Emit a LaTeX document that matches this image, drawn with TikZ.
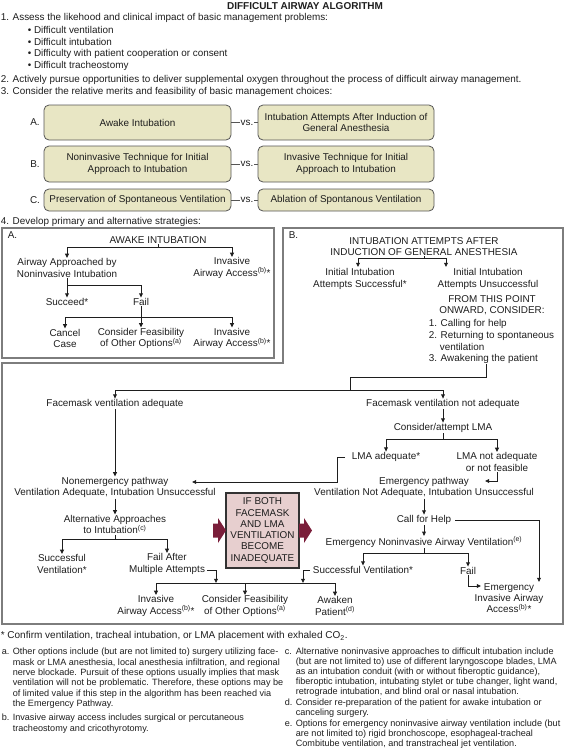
\documentclass[tikz,border=0pt]{standalone}
\usepackage{fontspec}
\setmainfont{Liberation Sans}
\usetikzlibrary{arrows.meta,calc}
\definecolor{txtc}{RGB}{30,30,30}
\definecolor{khaki}{RGB}{232,230,196}
\definecolor{boxline}{RGB}{85,85,85}
\definecolor{framec}{RGB}{125,125,125}
\definecolor{pinkc}{RGB}{231,207,207}
\definecolor{maroonc}{RGB}{122,30,58}
\newcommand{\sups}[1]{\textsuperscript{(#1)}}
\begin{document}
\begin{tikzpicture}[x=1pt,y=-1pt,
  every node/.style={font=\fontsize{9.9}{11.3}\selectfont, text=txtc, inner sep=0.8pt, outer sep=0pt},
  lbl/.style={align=center},
  arr/.style={-{Triangle[length=4.2pt,width=3.8pt]}, line width=0.85pt, draw=txtc},
  ln/.style={line width=0.85pt, draw=txtc},
  choice/.style={draw=boxline, fill=khaki, rounded corners=5pt, line width=0.8pt, align=center, minimum height=#1},
  frame/.style={draw=framec, line width=1.1pt},
  fnote/.style={font=\fontsize{9.1}{10.4}\selectfont, align=left, anchor=north west},
  fnoter/.style={font=\fontsize{9.1}{10.0}\selectfont, align=left, anchor=north west}
]
\useasboundingbox (0,0) rectangle (566,750);

% ---------- heading and list ----------
\node[font=\bfseries\fontsize{10}{12}\selectfont] (title) at (305,6) {DIFFICULT AIRWAY ALGORITHM};
\node[anchor=west] (l1) at (0,18) {1. Assess the likehood and clinical impact of basic management problems:};
\node[anchor=west] (bu1) at (27,30) {\textbullet\ Difficult ventilation};
\node[anchor=west] (bu2) at (27,42) {\textbullet\ Difficult intubation};
\node[anchor=west] (bu3) at (27,54) {\textbullet\ Difficulty with patient cooperation or consent};
\node[anchor=west] (bu4) at (27,66) {\textbullet\ Difficult tracheostomy};
\node[anchor=west] (l2) at (0,79.5) {2. Actively pursue opportunities to deliver supplemental oxygen throughout the process of difficult airway management.};
\node[anchor=west] (l3) at (0,91.5) {3. Consider the relative merits and feasibility of basic management choices:};

% ---------- choices ----------
\node (lA) at (35,122.5) {A.};
\node[choice=35pt, minimum width=187pt] (cA1) at (137.5,122.5) {Awake Intubation};
\node (vsA) at (247,122.5) {vs.};
\node[choice=35pt, minimum width=176pt] (cA2) at (346,122.5) {Intubation Attempts After Induction of\\General Anesthesia};
\node (lB) at (35,164) {B.};
\node[choice=36pt, minimum width=187pt] (cB1) at (137.5,164) {Noninvasive Technique for Initial\\Approach to Intubation};
\node (vsB) at (247,164) {vs.};
\node[choice=36pt, minimum width=176pt] (cB2) at (346,164) {Invasive Technique for Initial\\Approach to Intubation};
\node (lC) at (35,200) {C.};
\node[choice=22pt, minimum width=187pt] (cC1) at (137.5,200) {Preservation of Spontaneous Ventilation};
\node (vsC) at (247,200) {vs.};
\node[choice=22pt, minimum width=176pt] (cC2) at (346,200) {Ablation of Spontanous Ventilation};
\foreach \r in {A,B,C}{
  \draw[line width=0.7pt, draw=boxline] (c\r1.east) -- (vs\r.west);
  \draw[line width=0.7pt, draw=boxline] (vs\r.east) -- (c\r2.west);
}

\node[anchor=west] (l4) at (0,222) {4. Develop primary and alternative strategies:};

% ---------- frames ----------
\draw[frame] (2,228) rectangle (274,358);
\draw[frame] (283,228) -- (563,228) -- (563,624) -- (2,624) -- (2,363) -- (283,363) -- cycle;

% ---------- box A ----------
\node[anchor=west] (Alab) at (7,235) {A.};
\node (tA) at (158,240) {AWAKE INTUBATION};
\node[lbl] (a1) at (67,268) {Airway Approached by\\Noninvasive Intubation};
\node[lbl] (a2) at (232,268) {Invasive\\Airway Access\sups{b}*};
\coordinate (jA1) at (158,247);
\draw[ln] (tA.south) -- (jA1);
\draw[arr] (jA1) -| (a1.north);
\draw[arr] (jA1) -| (a2.north);
\node (s1) at (67,302) {Succeed*};
\node (f1) at (141,302) {Fail};
\coordinate (jA2) at (67,285);
\draw[arr] (a1.south) -- (s1.north);
\draw[arr] (jA2) -| (f1.north);
\node[lbl] (cc) at (65,338.5) {Cancel\\Case};
\node[lbl] (cf1) at (141,338.5) {Consider Feasibility\\of Other Options\sups{a}};
\node[lbl] (ia1) at (232,338.5) {Invasive\\Airway Access\sups{b}*};
\coordinate (jA3) at (141,317);
\draw[arr] (f1.south) -- (cf1.north);
\draw[arr] (jA3) -| (cc.north);
\draw[arr] (jA3) -| (ia1.north);

% ---------- box B ----------
\node[anchor=west] (Blab) at (288,235) {B.};
\node[lbl] (tB) at (424,246.5) {INTUBATION ATTEMPTS AFTER\\INDUCTION OF GENERAL ANESTHESIA};
\coordinate (jB0) at (424,258);
\coordinate (b1a) at (358,267);
\coordinate (b2a) at (446,267);
\draw[ln] (tB.south) -- (jB0);
\draw[arr] (jB0) -| (b1a);
\draw[arr] (jB0) -| (b2a);
\node[lbl] (b1) at (360,279) {Initial Intubation\\Attempts Successful*};
\node[lbl] (b2) at (488,279) {Initial Intubation\\Attempts Unsuccessful};
\node[lbl] (fr) at (492,305) {FROM THIS POINT\\ONWARD, CONSIDER:};
\node[anchor=west] (o1) at (428,324) {1. Calling for help};
\node[anchor=west] (o2) at (428,335.5) {2. Returning to spontaneous};
\node[anchor=west] (o2b) at (439,347) {ventilation};
\node[anchor=west] (o3) at (428,358.5) {3. Awakening the patient};

\coordinate (jB1) at (486,377);
\coordinate (jB2) at (350,390);
\draw[ln] (o3.south -| jB1) -- (jB1) -- (jB2 |- jB1) -- (jB2);

\node (fm1) at (115,404) {Facemask ventilation adequate};
\node (fm2) at (443,404) {Facemask ventilation not adequate};
\draw[arr] (jB2) -| (fm1.north);
\draw[arr] (jB2) -| (fm2.north);

% ---------- right branch ----------
\node (lma) at (443,428) {Consider/attempt LMA};
\draw[arr] (fm2.south) -- (lma.north);
\coordinate (jL) at (443,439.5);
\draw[ln] (lma.south) -- (jL);
\node (lma1) at (386,457) {LMA adequate*};
\node[lbl] (lma2) at (497,462) {LMA not adequate\\or not feasible};
\draw[arr] (jL) -| (lma1.north);
\draw[arr] (jL) -| (lma2.north);

\node[lbl] (ne) at (115,487.5) {Nonemergency pathway\\Ventilation Adequate, Intubation Unsuccessful};
\draw[arr] (fm1.south) -- (ne.north);
\coordinate (neTip) at (192,482);
\draw[arr] ($(lma1.west)+(-6,0)$) -- ++(-8,0) |- (neTip);

\node[lbl] (ep) at (424,487.5) {Emergency pathway\\Ventilation Not Adequate, Intubation Unsuccessful};
\coordinate (epTip) at (485,481);
\draw[arr] (lma2.south) |- (epTip);

\node (cfh) at (424,520) {Call for Help};
\draw[arr] (ep.south) -- (cfh.north);
\coordinate (eiaTip) at (539,582);
\draw[arr] ($(cfh.east)+(3,0)$) -| (eiaTip);
\node (eni) at (424,542) {Emergency Noninvasive Airway Ventilation\sups{e}};
\draw[arr] (cfh.south) -- (eni.north);
\coordinate (jE) at (424,553);
\draw[ln] (eni.south) -- (jE);
\node (sv2) at (363,570) {Successful Ventilation*};
\node (fl2) at (468,571) {Fail};
\draw[arr] (jE) -| (sv2.north);
\draw[arr] (jE) -| (fl2.north);
\node[lbl] (eia) at (509,598) {Emergency\\Invasive Airway\\Access\sups{b}*};
\coordinate (eiaTip2) at (481,586);
\draw[arr] (fl2.south) |- (eiaTip2);

% ---------- left branch ----------
\node[lbl] (alt) at (115,524.5) {Alternative Approaches\\to Intubation\sups{c}};
\draw[arr] (ne.south) -- (alt.north);
\coordinate (jN) at (115,539);
\draw[ln] (alt.south) -- (jN);
\node[lbl] (sv1) at (62,564) {Successful\\Ventilation*};
\node[lbl] (fa) at (167,564) {Fail After\\Multiple Attempts};
\draw[arr] (jN) -| (sv1.north);
\draw[arr] (jN) -| (fa.north);

\node[lbl] (ia2) at (156,606) {Invasive\\Airway Access\sups{b}*};
\node[lbl] (cf2) at (245,606) {Consider Feasibility\\of Other Options\sups{a}};
\node[lbl] (aw) at (335,606) {Awaken\\Patient\sups{d}};
\coordinate (jBot) at (245,583);
\draw[ln] (ia2.north |- jBot) -- (aw.north |- jBot);
\draw[arr] (ia2.north |- jBot) -- (ia2.north);
\draw[arr] (cf2.north |- jBot) -- (cf2.north);
\draw[arr] (aw.north |- jBot) -- (aw.north);
\coordinate (faHook) at (216,583);
\coordinate (svHook) at (303,583);
\draw[arr] ($(fa.east)+(1,6)$) -| (faHook);
\draw[arr] ($(sv2.west)+(-2,0)$) -| (svHook);

% ---------- central box ----------
\node[draw=black!80, fill=pinkc, line width=1.2pt, minimum width=73pt, minimum height=75pt, align=center, inner sep=1pt] (ifb) at (262.5,530.5) {IF BOTH\\FACEMASK\\AND LMA\\VENTILATION\\BECOME\\INADEQUATE};
\begin{scope}[shift={(ifb.west)}]
  \fill[maroonc] (-13,-7) -- (-8,-7) -- (-8,-12.5) -- (0,0) -- (-8,12.5) -- (-8,7) -- (-13,7) -- cycle;
\end{scope}
\begin{scope}[shift={(ifb.east)}]
  \fill[maroonc] (0,-7) -- (5,-7) -- (5,-12.5) -- (13,0) -- (5,12.5) -- (5,7) -- (0,7) -- cycle;
\end{scope}

% ---------- footnotes ----------
\node[anchor=west, font=\fontsize{10}{11}\selectfont] (fstar) at (0,636) {* Confirm ventilation, tracheal intubation, or LMA placement with exhaled CO\textsubscript{2}.};
\node[fnote] (fa1) at (1,647.3) {\makebox[11pt][l]{a.}Other options include (but are not limited to) surgery utilizing face-\\
\hspace*{11pt}mask or LMA anesthesia, local anesthesia infiltration, and regional\\
\hspace*{11pt}nerve blockade. Pursuit of these options usually implies that mask\\
\hspace*{11pt}ventilation will not be problematic. Therefore, these options may be\\
\hspace*{11pt}of limited value if this step in the algorithm has been reached via\\
\hspace*{11pt}the Emergency Pathway.};
\node[fnote] (fb1) at (1,713.3) {\makebox[11pt][l]{b.}Invasive airway access includes surgical or percutaneous\\
\hspace*{11pt}tracheostomy and cricothyrotomy.};
\node[fnoter] (fc1) at (284,647.3) {\makebox[11pt][l]{c.}Alternative noninvasive approaches to difficult intubation include\\
\hspace*{11pt}(but are not limited to) use of different laryngoscope blades, LMA\\
\hspace*{11pt}as an intubation conduit (with or without fiberoptic guidance),\\
\hspace*{11pt}fiberoptic intubation, intubating stylet or tube changer, light wand,\\
\hspace*{11pt}retrograde intubation, and blind oral or nasal intubation.};
\node[fnoter] (fd1) at (284,698.3) {\makebox[11pt][l]{d.}Consider re-preparation of the patient for awake intubation or\\
\hspace*{11pt}canceling surgery.};
\node[fnoter] (fe1) at (284,719.3) {\makebox[11pt][l]{e.}Options for emergency noninvasive airway ventilation include (but\\
\hspace*{11pt}are not limited to) rigid bronchoscope, esophageal-tracheal\\
\hspace*{11pt}Combitube ventilation, and transtracheal jet ventilation.};
\end{tikzpicture}
\end{document}
